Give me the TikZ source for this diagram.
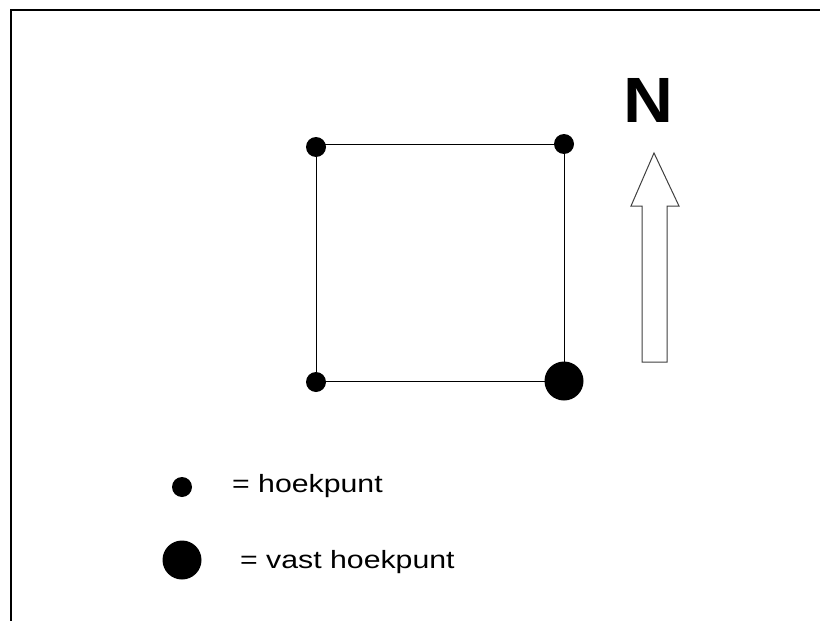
\documentclass[tikz,border=0pt]{standalone}
\usepackage{fontspec}
\setmainfont{Liberation Sans}
\begin{document}
\begin{tikzpicture}[x=1pt,y=-1pt,
  dotsmall/.style={circle,fill=black,inner sep=0pt,minimum size=20pt},
  dotbig/.style={circle,fill=black,inner sep=0pt,minimum size=39pt},
  edge/.style={draw=black,line width=1pt},
  legendtext/.style={anchor=base west,inner sep=0pt,font=\fontsize{25}{30}\selectfont}]
\useasboundingbox (0,0) rectangle (820,621);
% frame
\draw[line width=2pt] (11,621) -- (11,10) -- (820,10);
% square
\coordinate (tl) at (316,144);
\coordinate (tr) at (564,144);
\coordinate (bl) at (316,381);
\coordinate (br) at (564,381);
\draw[edge] (tl) -- (tr) -- (br) -- (bl) -- cycle;
\node[dotsmall] (dtl) at (316,147) {};
\node[dotsmall] (dtr) at (564,144) {};
\node[dotsmall] (dbl) at (316,382) {};
\node[dotbig] (dbr) at (564,381) {};
% north arrow
\draw[line width=1pt,draw=black!75,fill=white]
  (654,153) -- (679,206) -- (667,206) -- (667,362) -- (642,362) -- (642,206) -- (631,206) -- cycle;
\node[inner sep=0pt,font=\bfseries\fontsize{64}{70}\selectfont] (north) at (648,100) {\scalebox{1.08}[1]{N}};
% legend
\node[dotsmall] (lsmall) at (182,487) {};
\node[dotbig] (lbig) at (182,560) {};
\node[legendtext] (t1) at (232,492) {\scalebox{1.21}[1]{= hoekpunt}};
\node[legendtext] (t2) at (240,568) {\scalebox{1.21}[1]{= vast hoekpunt}};
\end{tikzpicture}
\end{document}
